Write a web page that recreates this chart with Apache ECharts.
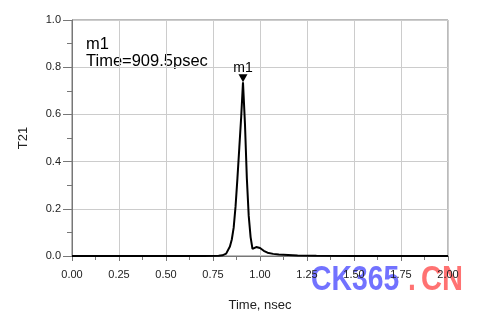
<!DOCTYPE html>
<html>
<head>
<meta charset="utf-8">
<script src="https://cdn.jsdelivr.net/npm/echarts@6/dist/echarts.min.js"></script>
<style>
    html, body { margin: 0; padding: 0; background: #fff; }
    #chart_id { width: 486px; height: 317px; }
</style>
</head>
<body>
<div id="chart_id"></div>
<script>
//时间轴 (nsec)
var times = [0, 0.70, 0.78, 0.80, 0.82, 0.84, 0.85, 0.86, 0.87, 0.88, 0.89, 0.90, 0.9095, 0.92, 0.93, 0.94, 0.95, 0.96, 0.97, 0.98, 0.99, 1.00, 1.02, 1.04, 1.07, 1.10, 1.15, 1.20, 1.30, 1.50, 2.00];
//T21 数值
var t21 = [0, 0, 0.001, 0.003, 0.01, 0.04, 0.07, 0.12, 0.21, 0.33, 0.46, 0.59, 0.736, 0.56, 0.33, 0.17, 0.08, 0.03, 0.025, 0.038, 0.042, 0.034, 0.022, 0.014, 0.009, 0.006, 0.004, 0.002, 0.001, 0.0005, 0];
//标记点
var markerName = "m1";
var markerTime = 0.9095;
var markerValue = 0.736;

initChart();

function initChart() {
    var myChart = echarts.init(document.getElementById("chart_id"));
    var datas = [];
    for (var i = 0, lens = times.length; i < lens; i++) {
        datas[i] = [times[i], t21[i]];
    }
    var font = "Liberation Sans, Arial, sans-serif";
    var option = {
        animation: false,
        backgroundColor: '#fff',
        grid: {
            left: 72, top: 20, right: 38, bottom: 58,
            show: true, borderColor: '#777', borderWidth: 1
        },
        xAxis: {
            type: 'value',
            min: 0, max: 2, interval: 0.25,
            name: 'Time, nsec',
            nameLocation: 'middle',
            nameGap: 43,
            nameTextStyle: { fontFamily: font, fontSize: 13, color: '#222' },
            axisLine: { lineStyle: { color: '#777' } },
            axisTick: { show: true, length: 5, lineStyle: { color: '#777' } },
            minorTick: { show: true, splitNumber: 2, length: 4, lineStyle: { color: '#777' } },
            splitLine: { show: true, lineStyle: { color: '#ccc', width: 1 } },
            axisLabel: {
                margin: 13, fontFamily: font, fontSize: 11, color: '#222',
                formatter: function (v) { return v.toFixed(2); }
            }
        },
        yAxis: {
            type: 'value',
            min: 0, max: 1, interval: 0.2,
            name: 'T21',
            nameLocation: 'middle',
            nameGap: 42,
            nameTextStyle: { fontFamily: font, fontSize: 13, color: '#222' },
            axisLine: { show: true, lineStyle: { color: '#777' } },
            axisTick: { show: true, length: 9, lineStyle: { color: '#777' } },
            minorTick: { show: true, splitNumber: 2, length: 5, lineStyle: { color: '#777' } },
            splitLine: { show: true, lineStyle: { color: '#ccc', width: 1 } },
            axisLabel: {
                margin: 11, fontFamily: font, fontSize: 11, color: '#222',
                formatter: function (v) { return v.toFixed(1); }
            }
        },
        series: [{
            type: 'line',
            data: datas,
            showSymbol: false,
            smooth: false,
            lineStyle: { color: '#000', width: 2 },
            markPoint: {
                symbol: 'triangle',
                symbolSize: [9, 8],
                symbolRotate: 180,
                symbolOffset: [0, -4],
                itemStyle: { color: '#000' },
                label: {
                    show: true, position: 'top', distance: -1,
                    formatter: markerName,
                    fontFamily: font, fontSize: 14, color: '#000'
                },
                data: [{ coord: [markerTime, markerValue] }]
            }
        }],
        graphic: [
            {
                type: 'text', left: 86, top: 36,
                style: {
                    text: markerName + '\nTime=' + (markerTime * 1000).toFixed(1) + 'psec',
                    font: '16.5px ' + font, fill: '#000', lineHeight: 17
                }
            },
            //水印
            {
                type: 'text', x: 311, y: 280, scaleX: 0.81,
                style: {
                    text: 'CK365', font: 'bold 35px ' + font,
                    fill: 'rgba(95,95,255,0.88)', textVerticalAlign: 'middle'
                }
            },
            {
                type: 'text', x: 408, y: 280, scaleX: 0.81,
                style: {
                    text: '.', font: 'bold 35px ' + font,
                    fill: 'rgba(255,95,95,0.88)', textVerticalAlign: 'middle'
                }
            },
            {
                type: 'text', x: 421, y: 280, scaleX: 0.83,
                style: {
                    text: 'CN', font: 'bold 35px ' + font,
                    fill: 'rgba(255,95,95,0.88)', textVerticalAlign: 'middle'
                }
            }
        ]
    };
    myChart.setOption(option, true);
}
</script>
</body>
</html>
